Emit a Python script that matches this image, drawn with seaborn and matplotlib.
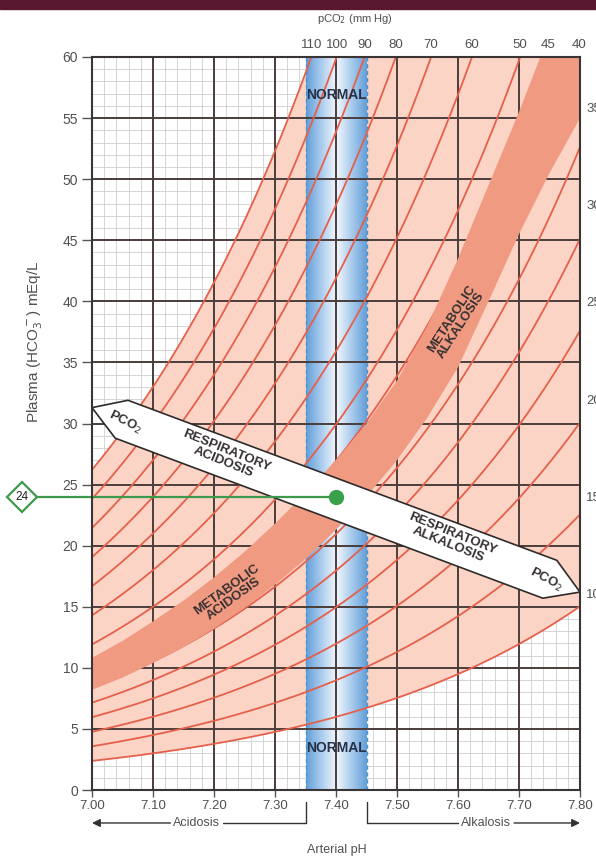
import numpy as np
import pandas as pd
import matplotlib
matplotlib.use('Agg')
import matplotlib.pyplot as plt
import seaborn as sns
from matplotlib.patches import Polygon, Rectangle
from matplotlib.colors import LinearSegmentedColormap
from matplotlib.ticker import MultipleLocator

# Chart data
ISOBAR_PCO2 = [10, 15, 20, 25, 30, 35, 40, 45, 50, 60, 70, 80, 90, 100, 110]
TOP_PCO2_LABELS = [110, 100, 90, 80, 70, 60, 50, 45, 40]
RIGHT_PCO2_LABELS = [35, 30, 25, 20, 15, 10]
PH_TICKS = [7.00, 7.10, 7.20, 7.30, 7.40, 7.50, 7.60, 7.70, 7.80]
HCO3_TICKS = [0, 5, 10, 15, 20, 25, 30, 35, 40, 45, 50, 55, 60]
NORMAL_PH = [7.35, 7.45]
PATIENT_PH = 7.40
PATIENT_HCO3 = 24

# metabolic band edges (pH, HCO3)
BAND_UPPER_PH = [7.00, 7.05, 7.10, 7.15, 7.20, 7.25, 7.30, 7.35, 7.40, 7.45, 7.50, 7.55, 7.60, 7.65, 7.70, 7.735]
BAND_UPPER_HCO3 = [10.8, 12.2, 13.8, 15.5, 17.4, 19.5, 21.8, 24.3, 27.0, 30.0, 33.5, 38.0, 43.5, 49.5, 55.5, 60.0]
BAND_LOWER_PH = [7.00, 7.05, 7.10, 7.15, 7.20, 7.25, 7.30, 7.35, 7.40, 7.45, 7.50, 7.55, 7.60, 7.65, 7.70, 7.75, 7.80]
BAND_LOWER_HCO3 = [8.2, 9.2, 10.4, 11.7, 13.2, 14.9, 16.8, 18.9, 21.3, 24.0, 27.0, 30.5, 34.6, 40.0, 45.5, 50.5, 55.0]

# respiratory arrow outline (pH, HCO3)
RESP_ARROW_PH = [7.000, 7.059, 7.762, 7.800, 7.739, 7.038]
RESP_ARROW_HCO3 = [31.3, 31.9, 18.8, 16.2, 15.7, 28.8]

RED = '#e5604b'
FILL = '#fbd4c5'
BAND = '#f19a82'
GRID = '#4a3d3b'
TXT = '#353030'
LBL = '#505050'


def isobar(pco2, ph):
    # Henderson-Hasselbalch: HCO3 = 0.03 * pCO2 * 10^(pH - 6.1)
    return 0.03 * pco2 * 10 ** (ph - 6.1)


def ph_at(pco2, hco3):
    return 6.1 + np.log10(hco3 / (0.03 * pco2))


def bracket(ax, fig, label, x_text, x_start, x_end, yb):
    """Text on a horizontal line running from x_start (tick) to an arrowhead at x_end."""
    tr = ax.get_xaxis_transform()
    t = ax.text(x_text, yb, label, transform=tr, ha='center', va='center',
                fontsize=9, color=LBL)
    fig.canvas.draw()
    bb = t.get_window_extent().transformed(ax.transData.inverted())
    gap = 3 * 0.8 / 488
    left, right = bb.x0 - gap, bb.x1 + gap
    near, far = (right, left) if x_end < x_start else (left, right)
    ax.plot([x_start, near], [yb, yb], color='#333', lw=1.0, transform=tr, clip_on=False)
    ax.plot([x_start, x_start], [yb, -0.016], color='#333', lw=1.0, transform=tr,
            clip_on=False)
    ax.annotate('', xy=(x_end, yb), xytext=(far, yb), xycoords=tr,
                arrowprops=dict(arrowstyle='-|>', color='#333', lw=1.0,
                                mutation_scale=12, shrinkA=0, shrinkB=0))


def main():
    sns.set_style('white')
    plt.rcParams['font.family'] = ['Liberation Sans', 'DejaVu Sans']

    fig = plt.figure(figsize=(5.96, 8.61), dpi=100)
    ax = fig.add_axes([92 / 596, 71 / 861, 488 / 596, 733 / 861])
    ax.set_xlim(7.0, 7.8)
    ax.set_ylim(0, 60)

    # minor grid underneath everything
    ax.xaxis.set_minor_locator(MultipleLocator(0.02))
    ax.yaxis.set_minor_locator(MultipleLocator(1))
    ax.grid(which='minor', color='#cfcfcf', lw=0.6, zorder=0)
    ax.set_axisbelow(True)

    # light area between the lowest and highest isobar
    ph = np.linspace(7.0, 7.8, 200)
    ax.fill_between(ph, isobar(ISOBAR_PCO2[0], ph), isobar(ISOBAR_PCO2[-1], ph),
                    color=FILL, lw=0, zorder=1)

    # blue normal-pH band
    cmap = LinearSegmentedColormap.from_list('nrm', ['#f1f6fc', '#a9cbed', '#649fd8'])
    grad = np.abs(np.linspace(-1, 1, 200))[None, :]
    ax.imshow(grad, extent=[NORMAL_PH[0], NORMAL_PH[1], 0, 60], aspect='auto',
              cmap=cmap, zorder=2, interpolation='bilinear')
    for v in NORMAL_PH:
        ax.axvline(v, color='#4b94d3', lw=1.0, ls=(0, (3, 2)), zorder=2.5)

    # isobars
    df = pd.DataFrame([(p, x, isobar(p, x)) for p in ISOBAR_PCO2 for x in ph],
                      columns=['pCO2', 'pH', 'HCO3'])
    sns.lineplot(data=df, x='pH', y='HCO3', units='pCO2', estimator=None,
                 color=RED, lw=1.3, ax=ax, zorder=4, legend=False)

    # major grid
    for v in PH_TICKS:
        ax.axvline(v, color=GRID, lw=1.4, zorder=3)
    for v in HCO3_TICKS:
        ax.axhline(v, color=GRID, lw=1.4, zorder=3)

    # metabolic band
    band = list(zip(BAND_UPPER_PH, BAND_UPPER_HCO3)) + [(7.8, 60)] + \
        list(zip(BAND_LOWER_PH, BAND_LOWER_HCO3))[::-1]
    ax.add_patch(Polygon(band, closed=True, color=BAND, lw=0, zorder=5))

    # respiratory arrow
    ax.add_patch(Polygon(list(zip(RESP_ARROW_PH, RESP_ARROW_HCO3)), closed=True,
                         facecolor='white', edgecolor='#2e2a2a', lw=1.2, zorder=6,
                         clip_on=False))

    bold = dict(fontweight='bold', color=TXT, ha='center', va='center', zorder=7,
                linespacing=0.95)
    ax.text(7.055, 30.1, 'PCO$_2$', rotation=-27, fontsize=9.5, **bold)
    ax.text(7.218, 27.3, 'RESPIRATORY\nACIDOSIS', rotation=-22, fontsize=9.5, **bold)
    ax.text(7.587, 20.5, 'RESPIRATORY\nALKALOSIS', rotation=-22, fontsize=9.5, **bold)
    ax.text(7.744, 17.2, 'PCO$_2$', rotation=-28, fontsize=9.5, **bold)
    ax.text(7.226, 16.0, 'METABOLIC\nACIDOSIS', rotation=36, fontsize=9.5, **bold)
    ax.text(7.597, 38.3, 'METABOLIC\nALKALOSIS', rotation=57, fontsize=9.5, **bold)
    ax.text(7.40, 56.9, 'NORMAL', fontsize=10, fontweight='bold', color='#263248',
            ha='center', va='center', zorder=7)
    ax.text(7.40, 3.4, 'NORMAL', fontsize=10, fontweight='bold', color='#263248',
            ha='center', va='center', zorder=7)

    # patient point with marker on the left
    ax.plot([6.905, PATIENT_PH], [PATIENT_HCO3, PATIENT_HCO3], color='#3d9a4c',
            lw=1.6, zorder=8, clip_on=False)
    ax.plot([PATIENT_PH], [PATIENT_HCO3], 'o', color='#3aa04b', ms=10, zorder=9)
    ax.plot([6.885], [PATIENT_HCO3], 'D', ms=15, mfc='white', mec='#3d9a4c', mew=1.6,
            zorder=9, clip_on=False)
    ax.text(6.885, PATIENT_HCO3, str(PATIENT_HCO3), fontsize=8.5, color='#222',
            ha='center', va='center', zorder=10)

    # axes styling
    for s in ax.spines.values():
        s.set_color('#3a3535')
        s.set_linewidth(1.5)
        s.set_zorder(8)
    ax.set_xticks(PH_TICKS)
    ax.set_xticklabels([f'{v:.2f}' for v in PH_TICKS])
    ax.set_yticks(HCO3_TICKS)
    ax.tick_params(which='major', direction='out', length=7, width=1.0, color='#555',
                   labelcolor=LBL, bottom=True, left=True)
    ax.tick_params(axis='x', labelsize=9.5, length=5, pad=2)
    ax.tick_params(axis='y', labelsize=10, pad=3)
    ax.tick_params(which='minor', length=0)
    ax.set_xlabel('')
    ax.set_ylabel('')

    # top pCO2 scale
    top = ax.twiny()
    top.set_xlim(ax.get_xlim())
    top.set_xticks([ph_at(p, 60) for p in TOP_PCO2_LABELS])
    top.set_xticklabels([str(p) for p in TOP_PCO2_LABELS])
    top.tick_params(length=0, labelsize=9.5, labelcolor=LBL, pad=4)
    for s in top.spines.values():
        s.set_visible(False)
    fig.text(355 / 596, 1 - 19 / 861, 'pCO$_2$ (mm Hg)', ha='center', va='center',
             fontsize=8, color=LBL)

    # right pCO2 labels, cut by the page edge
    for p in RIGHT_PCO2_LABELS:
        ax.text(7.81, isobar(p, 7.8) * 1.06, str(p), fontsize=9.5, color=LBL,
                ha='left', va='center', clip_on=False)

    fig.text(35 / 596, 1 - 342 / 861, 'Plasma (HCO$_3^-$) mEq/L', rotation=90,
             ha='center', va='center', fontsize=11, color=LBL)

    # acidosis / alkalosis brackets
    bracket(ax, fig, 'Acidosis', 7.172, NORMAL_PH[0], 7.0, -0.045)
    bracket(ax, fig, 'Alkalosis', 7.646, NORMAL_PH[1], 7.8, -0.045)
    fig.text(337 / 596, 1 - 850 / 861, 'Arterial pH', ha='center', va='center',
             fontsize=9, color=LBL)

    # dark page strip at the top
    fig.patches.append(Rectangle((0, 1 - 9 / 861), 1, 9 / 861, transform=fig.transFigure,
                                 color='#5a1730', zorder=0))

    fig.savefig('out.png', dpi=100)


if __name__ == '__main__':
    main()
